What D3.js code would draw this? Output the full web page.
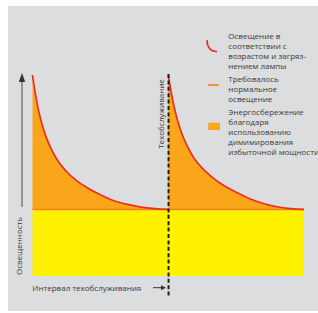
<!DOCTYPE html>
<html><head><meta charset="utf-8">
<script src="https://cdn.jsdelivr.net/npm/d3@7"></script>
<style>html,body{margin:0;padding:0;background:#fff}svg{display:block}text{font-family:"Open Sans",sans-serif;fill:#3a3a3a}</style>
</head><body>
<script>
// Data (t = fraction of service interval, v = illumination relative to required level)
const intervalT = [0, 0.02, 0.04, 0.07, 0.1, 0.14, 0.19, 0.25, 0.32, 0.4, 0.5, 0.6, 0.7, 0.8, 0.9, 1];
const cycle1V = [3.02, 2.75, 2.53, 2.28, 2.09, 1.90, 1.72, 1.57, 1.44, 1.33, 1.22, 1.13, 1.075, 1.035, 1.012, 1.0];
const cycle2V = [3.02, 2.78, 2.57, 2.33, 2.14, 1.95, 1.77, 1.62, 1.49, 1.37, 1.26, 1.16, 1.09, 1.04, 1.012, 1.0];
const requiredLevel = 1;
const legendLabels = [
  ["Освещение в", "соответствии с", "возрастом и загряз-", "нением лампы"],
  ["Требовалось", "нормальное", "освещение"],
  ["Энергосбережение", "благодаря", "использованию", "димимирования", "избыточной мощности"]
];
const yAxisLabel = "Освещенность";
const xAxisLabel = "Интервал техобслуживания";
const serviceLabel = "Техобслуживание";

const W = 318, H = 313;
const svg = d3.select("body").append("svg").attr("width", W).attr("height", H);
svg.append("rect").attr("x", 8).attr("y", 6).attr("width", 310).attr("height", 305).attr("fill", "#dcddde");

const x = d3.scaleLinear().domain([0, 2]).range([32.5, 304]);
const y = d3.scaleLinear().domain([0, 3.02]).range([276, 75]);

const pts1 = intervalT.map((t, i) => ({x: t, v: cycle1V[i]}));
const pts2 = intervalT.map((t, i) => ({x: 1 + t, v: cycle2V[i]}));

// yellow base
svg.append("rect").attr("x", x(0)).attr("y", y(requiredLevel)).attr("width", x(2) - x(0)).attr("height", y(0) - y(requiredLevel)).attr("fill", "#fff200");

const curve = d3.curveMonotoneX;
const area = d3.area().x(d => x(d.x)).y0(y(requiredLevel)).y1(d => y(d.v)).curve(curve);
const line = d3.line().x(d => x(d.x)).y(d => y(d.v)).curve(curve);
[pts1, pts2].forEach(p => {
  svg.append("path").attr("d", area(p)).attr("fill", "#f9a61a");
});
// required level line
svg.append("line").attr("x1", x(0)).attr("x2", x(2)).attr("y1", y(requiredLevel)).attr("y2", y(requiredLevel)).attr("stroke", "#f58220").attr("stroke-width", 1.6);
[pts1, pts2].forEach(p => {
  svg.append("path").attr("d", line(p)).attr("fill", "none").attr("stroke", "#ee2e24").attr("stroke-width", 1.7);
});

// service dashed line
svg.append("line").attr("x1", x(1) + 0.3).attr("x2", x(1) + 0.3).attr("y1", 74).attr("y2", 298).attr("stroke", "#1e1e1e").attr("stroke-width", 2).attr("stroke-dasharray", "4,2.4");

// y axis arrow
svg.append("line").attr("x1", 22).attr("x2", 22).attr("y1", 207).attr("y2", 80).attr("stroke", "#777").attr("stroke-width", 1.4);
svg.append("path").attr("d", "M22,73 L25.2,82 L18.8,82 Z").attr("fill", "#333");

// labels
svg.append("text").attr("transform", "translate(22,246) rotate(-90)").attr("text-anchor", "middle").attr("font-size", 8).text(yAxisLabel);
svg.append("text").attr("transform", "translate(163.5,114) rotate(-90)").attr("text-anchor", "middle").attr("font-size", 8).text(serviceLabel);
svg.append("text").attr("x", 32.3).attr("y", 291).attr("font-size", 8).text(xAxisLabel);

// small arrow to the service line
svg.append("line").attr("x1", 153).attr("x2", 162).attr("y1", 287.7).attr("y2", 287.7).attr("stroke", "#333").attr("stroke-width", 1);
svg.append("path").attr("d", "M166,287.7 L161,285.2 L161,290.2 Z").attr("fill", "#333");

// legend
const lg = svg.append("g").attr("font-size", 8);
const starts = [38.5, 81.5, 114.5];
legendLabels.forEach((lines, gi) => {
  lines.forEach((s, li) => {
    lg.append("text").attr("x", 228.3).attr("y", starts[gi] + li * 10.2).text(s);
  });
});
svg.append("path").attr("d", "M207,40 C207,47 210.5,52 217,51.5").attr("fill", "none").attr("stroke", "#ee2e24").attr("stroke-width", 1.6);
svg.append("line").attr("x1", 208).attr("x2", 219).attr("y1", 85).attr("y2", 85).attr("stroke", "#f58220").attr("stroke-width", 1.6);
svg.append("rect").attr("x", 208.3).attr("y", 122.7).attr("width", 11.7).attr("height", 7.3).attr("fill", "#f9a61a");
</script>
</body></html>
